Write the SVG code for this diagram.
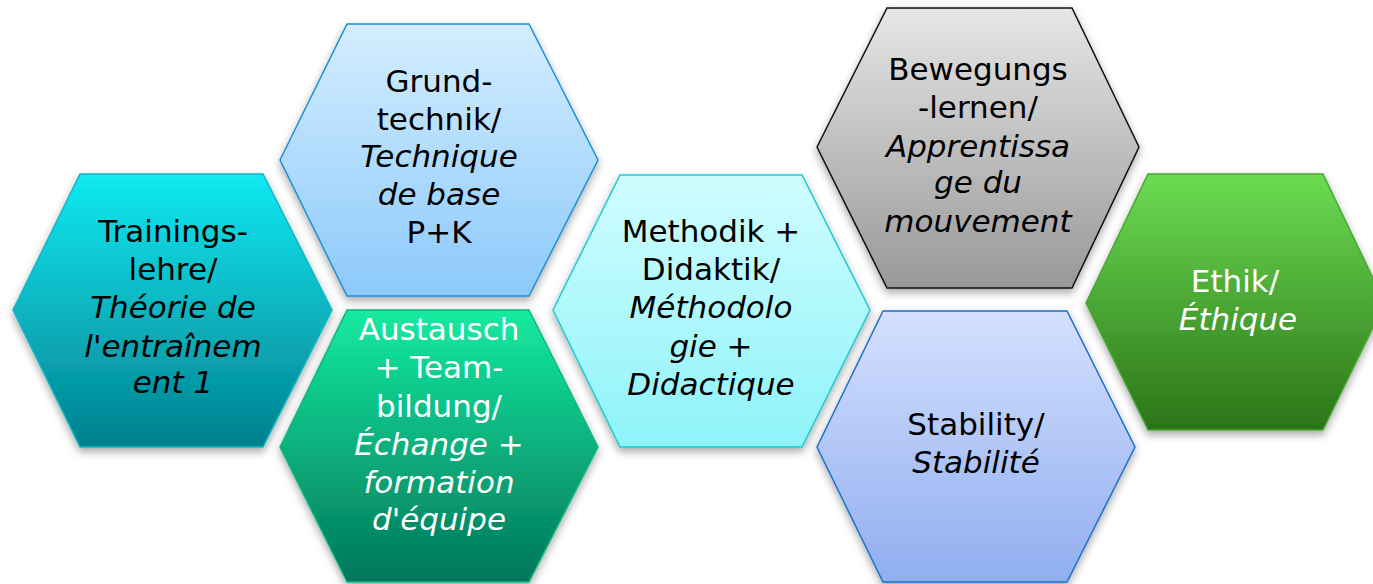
<svg xmlns="http://www.w3.org/2000/svg" width="1373" height="584" viewBox="0 0 1373 584">
<defs>
<linearGradient id="gTeal" x1="0" y1="0" x2="0" y2="1"><stop offset="0" stop-color="#12e9f2"/><stop offset="1" stop-color="#02808e"/></linearGradient>
<linearGradient id="gBlue" x1="0" y1="0" x2="0" y2="1"><stop offset="0" stop-color="#d4eeff"/><stop offset="1" stop-color="#8cc9fa"/></linearGradient>
<linearGradient id="gGreen" x1="0" y1="0" x2="0" y2="1"><stop offset="0" stop-color="#14eba0"/><stop offset="1" stop-color="#02765a"/></linearGradient>
<linearGradient id="gCyan" x1="0" y1="0" x2="0" y2="1"><stop offset="0" stop-color="#d0fdff"/><stop offset="1" stop-color="#8ef3f9"/></linearGradient>
<linearGradient id="gGray" x1="0" y1="0" x2="0" y2="1"><stop offset="0" stop-color="#e6e6e6"/><stop offset="1" stop-color="#989898"/></linearGradient>
<linearGradient id="gLav" x1="0" y1="0" x2="0" y2="1"><stop offset="0" stop-color="#d4e0ff"/><stop offset="1" stop-color="#90aeef"/></linearGradient>
<linearGradient id="gLeaf" x1="0" y1="0" x2="0" y2="1"><stop offset="0" stop-color="#6cdc52"/><stop offset="1" stop-color="#2b7418"/></linearGradient>
<filter id="sh" x="-10%" y="-10%" width="120%" height="125%"><feDropShadow dx="0" dy="4" stdDeviation="4" flood-color="#000" flood-opacity="0.35"/></filter>
</defs>
<style>
.hex{filter:url(#sh);stroke-width:1.5}
text{font-family:"DejaVu Sans","Verdana",sans-serif;font-size:31px;text-anchor:middle}
.i{font-style:italic}
.w{fill:#ffffff}
.k{fill:#000000}
</style>
<g id="connectors"></g>
<g id="n1">
<path class="hex" d="M13,310 L80,174 L263,174 L332,310 L263,447 L80,447 Z" fill="url(#gTeal)" stroke="#0cb8c4"/>
<text class="k" x="173" y="242">Trainings-</text>
<text class="k" x="173" y="280">lehre/</text>
<text class="k i" x="173" y="318">Théorie de</text>
<text class="k i" x="173" y="357">l'entraînem</text>
<text class="k i" x="173" y="393">ent 1</text>
</g>
<g id="n2">
<path class="hex" d="M280,160 L347,24 L529,24 L598,160 L529,296 L347,296 Z" fill="url(#gBlue)" stroke="#1e8fd6"/>
<text class="k" x="439" y="92">Grund-</text>
<text class="k" x="439" y="130">technik/</text>
<text class="k i" x="439" y="167">Technique</text>
<text class="k i" x="439" y="205">de base</text>
<text class="k" x="439" y="243">P+K</text>
</g>
<g id="n3">
<path class="hex" d="M280,447 L347,310 L529,310 L598,447 L529,582 L347,582 Z" fill="url(#gGreen)" stroke="#0fb880"/>
<text class="w" x="439" y="340">Austausch</text>
<text class="w" x="439" y="378">+ Team-</text>
<text class="w" x="439" y="417">bildung/</text>
<text class="w i" x="439" y="455">Échange +</text>
<text class="w i" x="439" y="493">formation</text>
<text class="w i" x="439" y="530">d'équipe</text>
</g>
<g id="n4">
<path class="hex" d="M553,310 L620,175 L802,175 L870,310 L802,447 L620,447 Z" fill="url(#gCyan)" stroke="#1ccad2"/>
<text class="k" x="711" y="242">Methodik +</text>
<text class="k" x="711" y="280">Didaktik/</text>
<text class="k i" x="711" y="318">Méthodolo</text>
<text class="k i" x="711" y="357">gie +</text>
<text class="k i" x="711" y="395">Didactique</text>
</g>
<g id="n5">
<path class="hex" d="M817,147 L887,8 L1072,8 L1139,147 L1072,288 L887,288 Z" fill="url(#gGray)" stroke="#111111"/>
<text class="k" x="978" y="80">Bewegungs</text>
<text class="k" x="978" y="118">-lernen/</text>
<text class="k i" x="978" y="157">Apprentissa</text>
<text class="k i" x="978" y="193">ge du</text>
<text class="k i" x="978" y="232">mouvement</text>
</g>
<g id="n6">
<path class="hex" d="M817,447 L883,311 L1067,311 L1135,447 L1067,582 L883,582 Z" fill="url(#gLav)" stroke="#1e6fcc"/>
<text class="k" x="976" y="435">Stability/</text>
<text class="k i" x="976" y="473">Stabilité</text>
</g>
<g id="n7">
<path class="hex" d="M1086,303 L1148,174 L1323,174 L1385,303 L1323,430 L1148,430 Z" fill="url(#gLeaf)" stroke="#4aa836"/>
<text class="w" x="1235" y="292">Ethik/</text>
<text class="w i" x="1238" y="330">Éthique</text>
</g>
</svg>
